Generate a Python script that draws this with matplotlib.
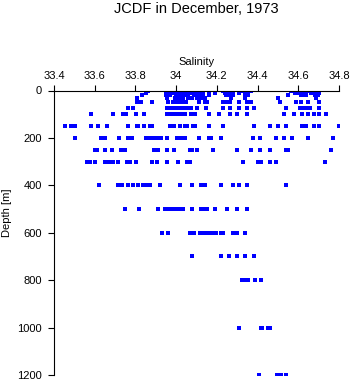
import numpy as np
import matplotlib
matplotlib.use('Agg')
import matplotlib.pyplot as plt

plt.rcParams['font.family'] = ['Liberation Sans', 'DejaVu Sans']

# Salinity readings at each standard depth (m)
depth_levels = [0, 10, 20, 30, 50, 75, 100, 150, 200, 250, 300, 400,
                500, 600, 700, 800, 1000, 1200]

sal_0 = [33.86, 33.95, 33.97, 33.98, 34.00, 34.01, 34.02, 34.03, 34.04, 34.06,
         34.075, 34.09, 34.124, 34.16, 34.23, 34.247, 34.255, 34.263, 34.33,
         34.34, 34.35, 34.36, 34.37, 34.566, 34.59, 34.60, 34.61, 34.62, 34.63,
         34.64, 34.65, 34.66, 34.67, 34.68, 34.69, 34.70]
sal_10 = [33.85, 33.95, 33.97, 33.99, 34.00, 34.01, 34.02, 34.04, 34.06, 34.08,
          34.10, 34.116, 34.124, 34.132, 34.19, 34.239, 34.25, 34.26, 34.27,
          34.28, 34.309, 34.337, 34.345, 34.353, 34.582, 34.60, 34.62, 34.64,
          34.66, 34.68, 34.70]
sal_20 = [33.83, 33.95, 33.97, 34.00, 34.02, 34.04, 34.06, 34.09, 34.108,
          34.12, 34.132, 34.16, 34.247, 34.26, 34.28, 34.337, 34.353, 34.55,
          34.615, 34.63, 34.64, 34.68, 34.697]
sal_30 = [33.81, 33.953, 33.994, 34.01, 34.02, 34.035, 34.06, 34.08, 34.10,
          34.116, 34.13, 34.141, 34.271, 34.337, 34.501, 34.689]
sal_50 = [33.81, 33.825, 33.879, 33.961, 33.985, 33.99, 34.00, 34.01, 34.02,
          34.035, 34.05, 34.11, 34.141, 34.152, 34.231, 34.247, 34.263, 34.309,
          34.348, 34.37, 34.509, 34.591, 34.615, 34.648, 34.702]
sal_75 = [33.762, 33.789, 33.953, 33.966, 33.985, 34.00, 34.01, 34.02, 34.035,
          34.05, 34.06, 34.075, 34.10, 34.149, 34.231, 34.263, 34.309, 34.348,
          34.381, 34.541, 34.607, 34.623, 34.636, 34.656, 34.702]
sal_100 = [33.583, 33.691, 33.74, 33.753, 33.802, 33.842, 33.953, 33.973,
           33.994, 34.01, 34.02, 34.035, 34.043, 34.071, 34.092, 34.16, 34.211,
           34.263, 34.301, 34.348, 34.53, 34.579, 34.618, 34.648, 34.676,
           34.70, 34.738]
sal_150 = [33.452, 33.482, 33.503, 33.583, 33.614, 33.662, 33.762, 33.806,
           33.814, 33.842, 33.874, 33.881, 33.969, 33.990, 34.018, 34.043,
           34.051, 34.083, 34.092, 34.160, 34.231, 34.380, 34.460, 34.501,
           34.540, 34.618, 34.638, 34.677, 34.700, 34.800]
sal_200 = [33.503, 33.631, 33.65, 33.721, 33.762, 33.781, 33.85, 33.871,
           33.891, 33.912, 33.924, 33.953, 34.002, 34.01, 34.018, 34.026,
           34.035, 34.043, 34.11, 34.16, 34.173, 34.222, 34.378, 34.411,
           34.489, 34.53, 34.569, 34.648, 34.77]
sal_250 = [33.601, 33.613, 33.65, 33.683, 33.729, 33.75, 33.891, 33.912,
           33.953, 33.99, 34.067, 34.08, 34.10, 34.182, 34.301, 34.37, 34.411,
           34.46, 34.541, 34.55, 34.762]
sal_300 = [33.563, 33.577, 33.601, 33.65, 33.665, 33.68, 33.691, 33.712,
           33.757, 33.773, 33.802, 33.879, 33.904, 33.953, 34.01, 34.051,
           34.067, 34.329, 34.402, 34.419, 34.46, 34.489, 34.73]
sal_400 = [33.622, 33.716, 33.732, 33.762, 33.789, 33.814, 33.838, 33.855,
           33.874, 33.92, 34.018, 34.08, 34.121, 34.141, 34.222, 34.28,
           34.309, 34.348, 34.541]
sal_500 = [33.75, 33.819, 33.912, 33.945, 33.96, 33.97, 33.982, 33.998, 34.01,
           34.02, 34.035, 34.08, 34.121, 34.141, 34.152, 34.19, 34.25, 34.299,
           34.348]
sal_600 = [33.93, 33.961, 34.07, 34.088, 34.116, 34.13, 34.14, 34.15, 34.16,
           34.17, 34.18, 34.195, 34.222, 34.231, 34.28, 34.299, 34.34]
sal_700 = [34.08, 34.219, 34.26, 34.299, 34.34, 34.381]
sal_800 = [34.325, 34.335, 34.345, 34.353, 34.389, 34.419]
sal_1000 = [34.309, 34.416, 34.424, 34.451, 34.463]
sal_1200 = [34.407, 34.497, 34.517, 34.538]

sal_por_nivel = [sal_0, sal_10, sal_20, sal_30, sal_50, sal_75, sal_100,
                 sal_150, sal_200, sal_250, sal_300, sal_400, sal_500,
                 sal_600, sal_700, sal_800, sal_1000, sal_1200]

x_ticks = [33.4, 33.6, 33.8, 34.0, 34.2, 34.4, 34.6, 34.8]
x_tick_labels = ['33.4', '33.6', '33.8', '34', '34.2', '34.4', '34.6', '34.8']
y_ticks = [0, 200, 400, 600, 800, 1000, 1200]

sal = []
prof = []
for d, valores in zip(depth_levels, sal_por_nivel):
    sal.extend(valores)
    prof.extend([d] * len(valores))

fig = plt.figure(figsize=(3.53, 3.84), dpi=100)
# eje: izquierda 54 px, derecha 339 px, arriba 90.5 px, abajo 375 px
ax = fig.add_axes([54 / 353, 9 / 384, 285 / 353, 284.5 / 384])

ax.plot(sal, prof, linestyle='none', marker='s', markersize=2.2,
        markeredgewidth=0, color='#0000ff', antialiased=False)

ax.set_xlim(33.4, 34.8)
ax.set_ylim(1200, 0)
ax.xaxis.tick_top()
ax.xaxis.set_label_position('top')
ax.set_xticks(x_ticks)
ax.set_xticklabels(x_tick_labels)
ax.set_yticks(y_ticks)
ax.tick_params(axis='both', direction='out', length=4, width=0.8,
               labelsize=8, pad=3)
ax.tick_params(axis='y', length=4.5, pad=4)
ax.spines['right'].set_visible(False)
ax.spines['bottom'].set_visible(False)
ax.spines['top'].set_linewidth(0.8)
ax.spines['left'].set_linewidth(0.8)

ax.set_xlabel('Salinity', fontsize=8, labelpad=4)
ax.set_ylabel('Depth [m]', fontsize=8)
ax.yaxis.set_label_coords(-0.148, 0.57)

# título centrado sobre el eje, no sobre la figura
fig.text((54 + 339) / 2 / 353, 1 - 9 / 384, 'JCDF in December, 1973',
         ha='center', va='center', fontsize=10.5)

fig.savefig('out.png', dpi=100)
